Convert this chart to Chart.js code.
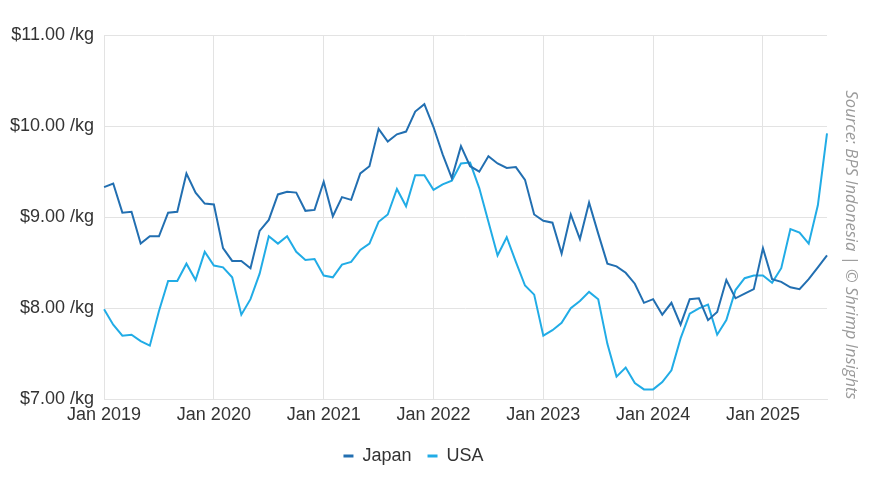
<!DOCTYPE html>
<html>
<head>
<meta charset="utf-8">
<script src="https://cdn.jsdelivr.net/npm/chart.js@4"></script>
<style>
  html, body { margin: 0; padding: 0; background: #fff; }
  #wrap { width: 870px; height: 489px; position: relative; }
</style>
</head>
<body>
<div id="wrap"><canvas id="priceChart"></canvas></div>
<script>
// --- Data (USD per kg, monthly, Jan 2019 - Aug 2025) ---
const monthNames = ['Jan', 'Feb', 'Mar', 'Apr', 'May', 'Jun', 'Jul', 'Aug', 'Sep', 'Oct', 'Nov', 'Dec'];
const years = [2019, 2020, 2021, 2022, 2023, 2024, 2025];
const lastMonthCount = 8; // data runs to Aug 2025

const japan = [
  9.33, 9.37, 9.05, 9.06, 8.71, 8.79, 8.79, 9.05, 9.06, 9.48, 9.27, 9.15,
  9.14, 8.66, 8.52, 8.52, 8.44, 8.85, 8.97, 9.25, 9.28, 9.27, 9.07, 9.08,
  9.39, 9.01, 9.22, 9.19, 9.48, 9.56, 9.97, 9.83, 9.91, 9.94, 10.16, 10.24,
  9.99, 9.69, 9.43, 9.78, 9.56, 9.50, 9.67, 9.59, 9.54, 9.55, 9.41, 9.03,
  8.96, 8.94, 8.60, 9.03, 8.76, 9.16, 8.82, 8.49, 8.46, 8.39, 8.27, 8.06,
  8.10, 7.93, 8.06, 7.82, 8.10, 8.11, 7.87, 7.96, 8.31, 8.11, 8.16, 8.21,
  8.66, 8.32, 8.29, 8.23, 8.21, 8.32, 8.45, 8.58
];

const usa = [
  7.99, 7.82, 7.70, 7.71, 7.64, 7.59, 7.97, 8.30, 8.30, 8.49, 8.31, 8.62,
  8.47, 8.45, 8.34, 7.93, 8.10, 8.38, 8.79, 8.71, 8.79, 8.62, 8.53, 8.54,
  8.36, 8.34, 8.48, 8.51, 8.64, 8.71, 8.95, 9.03, 9.31, 9.12, 9.46, 9.46,
  9.30, 9.36, 9.40, 9.59, 9.60, 9.32, 8.95, 8.58, 8.78, 8.51, 8.25, 8.15,
  7.70, 7.76, 7.84, 8.00, 8.08, 8.18, 8.10, 7.61, 7.25, 7.35, 7.18, 7.11,
  7.11, 7.19, 7.32, 7.67, 7.94, 8.00, 8.04, 7.71, 7.87, 8.20, 8.33, 8.36,
  8.36, 8.28, 8.44, 8.87, 8.83, 8.71, 9.13, 9.92
];

const yTicks = [7, 8, 9, 10, 11];
const sourceText = 'Source: BPS Indonesia | \u00a9 Shrimp Insights';

// month labels built from the names/years above
const labels = [];
years.forEach((y, i) => {
  const count = i === years.length - 1 ? lastMonthCount : 12;
  for (let m = 0; m < count; m++) labels.push(monthNames[m] + ' ' + y);
});

const japanColor = '#226fb1';
const usaColor = '#21ace6';
const textColor = '#333333';
const gridColor = '#e3e3e3';

// Rotated source note on the right edge
const sourcePlugin = {
  id: 'sourceNote',
  afterDraw(chart) {
    const ctx = chart.ctx;
    ctx.save();
    ctx.translate(851, 245);
    ctx.rotate(Math.PI / 2);
    ctx.font = 'italic 16.5px "Open Sans", sans-serif';
    ctx.fillStyle = '#9a9a9a';
    ctx.textAlign = 'center';
    ctx.textBaseline = 'middle';
    ctx.fillText(sourceText, 0, 0);
    ctx.restore();
  }
};

Chart.defaults.font.family = '"Liberation Sans", Arial, sans-serif';
Chart.defaults.color = textColor;

const ctx = document.getElementById('priceChart').getContext('2d');
new Chart(ctx, {
  type: 'line',
  data: {
    labels: labels,
    datasets: [
      { label: 'Japan', data: japan, borderColor: japanColor, backgroundColor: japanColor, borderWidth: 2, pointRadius: 0, tension: 0 },
      { label: 'USA', data: usa, borderColor: usaColor, backgroundColor: usaColor, borderWidth: 2, pointRadius: 0, tension: 0 }
    ]
  },
  options: {
    responsive: true,
    maintainAspectRatio: false,
    animation: false,
    layout: { padding: { top: 35, right: 43, left: 0, bottom: 14 } },
    plugins: {
      tooltip: { enabled: false },
      legend: {
        position: 'bottom',
        labels: {
          font: { size: 18 },
          color: textColor,
          boxWidth: 10,
          boxHeight: 3,
          padding: 16,
          generateLabels(chart) {
            return chart.data.datasets.map((ds, i) => ({
              text: ds.label,
              fillStyle: ds.borderColor,
              strokeStyle: ds.borderColor,
              lineWidth: 0,
              fontColor: textColor,
              hidden: false,
              datasetIndex: i
            }));
          }
        }
      }
    },
    scales: {
      x: {
        offset: false,
        grid: {
          color: gridColor,
          drawTicks: false
        },
        border: { color: gridColor },
        ticks: {
          autoSkip: false,
          maxRotation: 0,
          padding: 5,
          font: { size: 18 },
          color: textColor,
          callback(value, index) {
            const l = labels[index];
            return l.startsWith('Jan') ? l : null;
          }
        }
      },
      y: {
        min: yTicks[0],
        max: yTicks[yTicks.length - 1],
        afterBuildTicks(scale) {
          scale.ticks = yTicks.map(v => ({ value: v }));
        },
        grid: { color: gridColor, drawTicks: false },
        border: { display: false },
        ticks: {
          padding: 10,
          font: { size: 18 },
          color: textColor,
          callback: v => '$' + Number(v).toFixed(2) + ' /kg'
        }
      }
    }
  },
  plugins: [sourcePlugin]
});
</script>
</body>
</html>
